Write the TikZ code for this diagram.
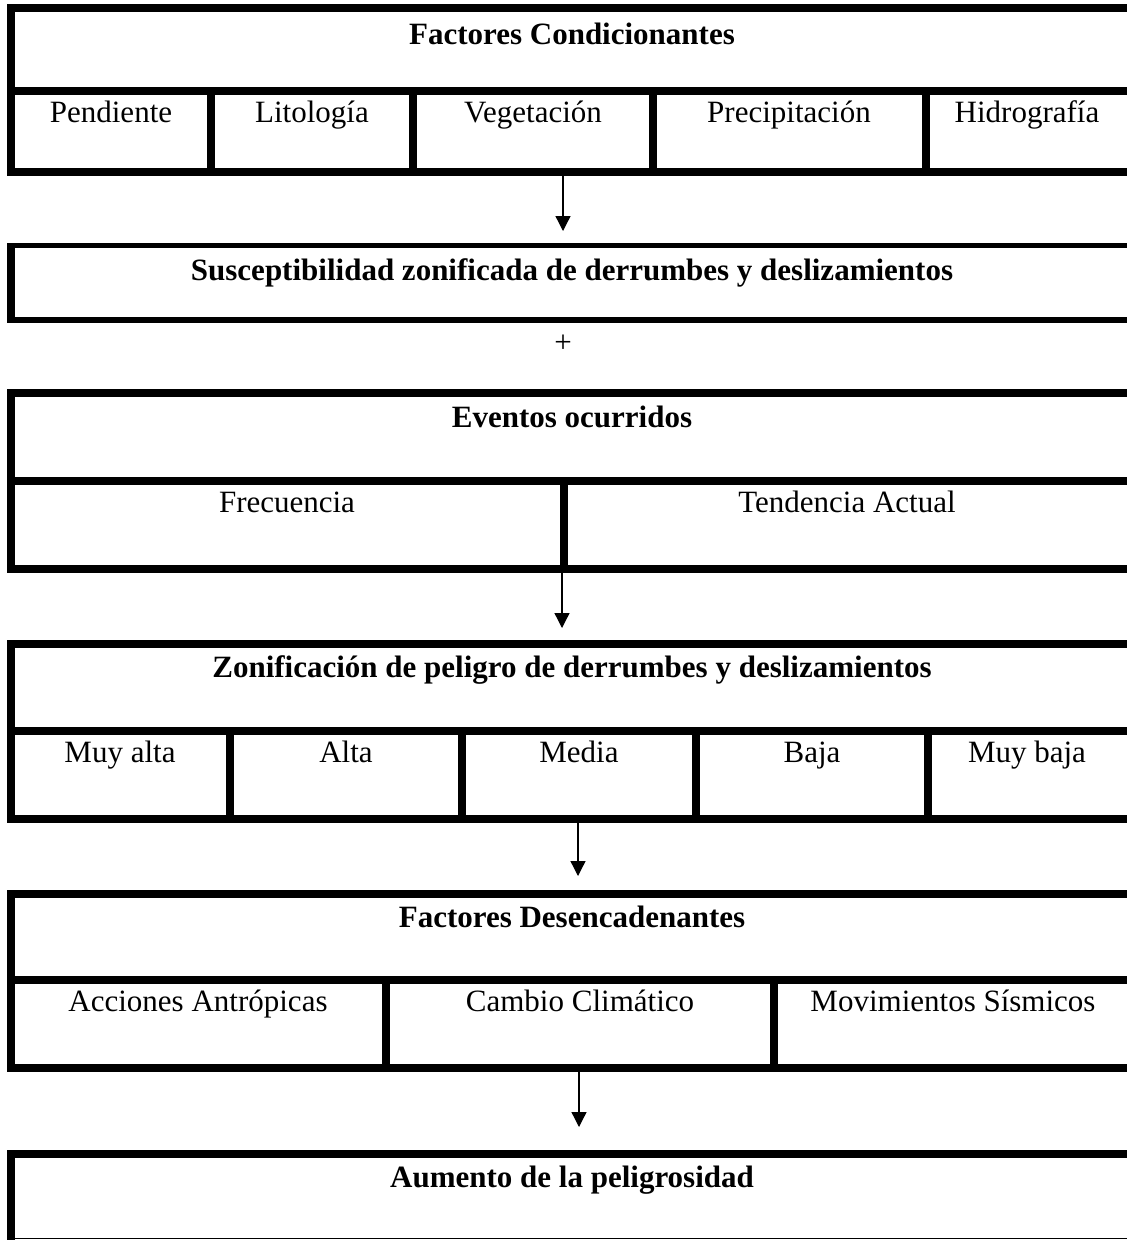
\documentclass[tikz,border=0pt]{standalone}
\usepackage{fontspec}
\setmainfont{Liberation Serif}
\usetikzlibrary{arrows.meta}
\tikzset{
  bar/.style={line width=7.5pt},
  thinbar/.style={line width=5.5pt},
  cell/.style={anchor=base, font=\fontsize{31}{36}\selectfont},
  head/.style={anchor=base, font=\fontsize{31}{36}\selectfont\bfseries},
  flow/.style={line width=1.3pt, -{Triangle[width=15pt,length=15pt]}}
}

\begin{document}
\begin{tikzpicture}[x=1pt,y=-1pt]
            \useasboundingbox (0,0) rectangle (1127,1240);
            % Factores Condicionantes
            \draw[bar] (7,8) -- (1127,8);
            \draw[bar] (7,91) -- (1127,91);
            \draw[bar] (7,172) -- (1127,172);
            \draw[bar] (11,4) -- (11,176);
            \foreach \x in {211,413,653,926} \draw[bar] (\x,91) -- (\x,172);
            \node[head] (cond) at (572,44) {Factores Condicionantes};
            \node[cell] (pend) at (111,122) {Pendiente};
            \node[cell] (lito) at (312,122) {Litología};
            \node[cell] (vege) at (533,122) {Vegetación};
            \node[cell] (prec) at (789,122) {Precipitación};
            \node[cell] (hidr) at (1027,122) {Hidrografía};
            \coordinate (cond-s) at (563,176);
            % Susceptibilidad
            \draw[thinbar] (7,245.5) -- (1127,245.5);
            \draw[thinbar] (7,320) -- (1127,320);
            \draw[bar] (11,243) -- (11,323);
            \node[head] (susc) at (572,280) {Susceptibilidad zonificada de derrumbes y deslizamientos};
            \coordinate (susc-n) at (563,231);
            \draw[flow] (cond-s) -- (susc-n);
            \node[cell, anchor=center] (plus) at (563,344) {+};
            % Eventos ocurridos
            \draw[bar] (7,393) -- (1127,393);
            \draw[bar] (7,481) -- (1127,481);
            \draw[bar] (7,569) -- (1127,569);
            \draw[bar] (11,389) -- (11,573);
            \draw[bar] (564,481) -- (564,569);
            \node[head] (even) at (572,427) {Eventos ocurridos};
            \node[cell] (frec) at (287,512) {Frecuencia};
            \node[cell] (tend) at (847,512) {Tendencia Actual};
            \coordinate (even-s) at (562,573);
            % Zonificacion de peligro
            \draw[bar] (7,644) -- (1127,644);
            \draw[bar] (7,731) -- (1127,731);
            \draw[bar] (7,819) -- (1127,819);
            \draw[bar] (11,640) -- (11,823);
            \foreach \x in {230,462,696,928} \draw[bar] (\x,731) -- (\x,819);
            \node[head] (zoni) at (572,677) {Zonificación de peligro de derrumbes y deslizamientos};
            \node[cell] (muya) at (120,762) {Muy alta};
            \node[cell] (alta) at (346,762) {Alta};
            \node[cell] (medi) at (579,762) {Media};
            \node[cell] (baja) at (812,762) {Baja};
            \node[cell] (muyb) at (1027,762) {Muy baja};
            \coordinate (zoni-n) at (562,628);
            \draw[flow] (even-s) -- (zoni-n);
            \coordinate (zoni-s) at (578,823);
            % Factores Desencadenantes
            \draw[bar] (7,894) -- (1127,894);
            \draw[bar] (7,980) -- (1127,980);
            \draw[bar] (7,1068) -- (1127,1068);
            \draw[bar] (11,890) -- (11,1072);
            \foreach \x in {386,774} \draw[bar] (\x,980) -- (\x,1068);
            \node[head] (desc) at (572,927) {Factores Desencadenantes};
            \node[cell] (antr) at (198,1011) {Acciones Antrópicas};
            \node[cell] (clim) at (580,1011) {Cambio Climático};
            \node[cell] (sism) at (953,1011) {Movimientos Sísmicos};
            \coordinate (desc-n) at (578,876);
            \draw[flow] (zoni-s) -- (desc-n);
            \coordinate (desc-s) at (579,1072);
            % Aumento de la peligrosidad
            \draw[bar] (7,1154) -- (1127,1154);
            \draw[bar] (11,1150) -- (11,1240);
            \draw[line width=1.5pt] (15,1238.5) -- (1127,1238.5);
            \node[head] (aume) at (572,1187) {Aumento de la peligrosidad};
            \coordinate (aume-n) at (579,1127);
            \draw[flow] (desc-s) -- (aume-n);
        \end{tikzpicture}
\end{document}
